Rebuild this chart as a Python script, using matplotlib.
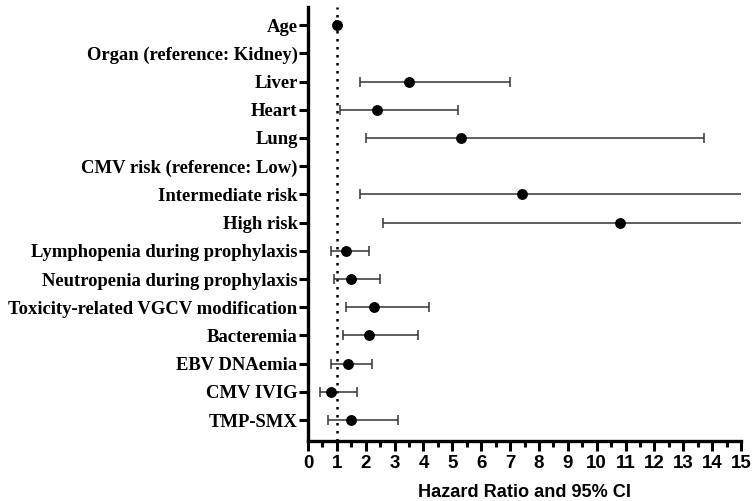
import matplotlib.pyplot as plt
import numpy as np

labels = ["Age", "Organ (reference: Kidney)", "Liver", "Heart", "Lung",
          "CMV risk (reference: Low)", "Intermediate risk", "High risk",
          "Lymphopenia during prophylaxis", "Neutropenia during prophylaxis",
          "Toxicity-related VGCV modification", "Bacteremia", "EBV DNAemia",
          "CMV IVIG", "TMP-SMX"]
hr = [1.0, np.nan, 3.5, 2.4, 5.3, np.nan, 7.4, 10.8, 1.3, 1.5, 2.3, 2.1, 1.4, 0.8, 1.5]
lo = [0.98, np.nan, 1.8, 1.1, 2.0, np.nan, 1.8, 2.6, 0.8, 0.9, 1.3, 1.2, 0.8, 0.4, 0.7]
hi = [1.02, np.nan, 7.0, 5.2, 13.7, np.nan, 30.5, 45.0, 2.1, 2.5, 4.2, 3.8, 2.2, 1.7, 3.1]

hr = np.array(hr)
lo = np.array(lo)
hi = np.array(hi)
y = np.arange(len(labels))

fig = plt.figure(figsize=(7.54, 5.01), dpi=100)
ax = fig.add_axes([0.4085, 0.1198, 0.5743, 0.8662])

ax.axvline(1, color="black", linestyle=(0, (1, 2.2)), linewidth=1.8, zorder=1)
ax.errorbar(hr, y, xerr=[hr - lo, hi - hr], fmt="o", color="black",
            ecolor="#333333", elinewidth=1.1, capsize=3.3, capthick=1.1,
            markersize=6.8, zorder=3)

ax.set_xlim(0, 15)
ax.set_ylim(14.74, -0.64)
ax.set_yticks(y)
ax.set_yticklabels(labels, family="Liberation Serif", fontweight="bold", fontsize=13.4)
ax.set_xticks(np.arange(0, 16, 1))
ax.set_xticks(np.arange(0.5, 15, 1), minor=True)
ax.set_xticklabels([str(i) for i in range(16)], family="Liberation Sans",
                   fontweight="bold", fontsize=13.5)
ax.set_xlabel("Hazard Ratio and 95% CI", family="Liberation Sans",
              fontweight="bold", fontsize=13.1, labelpad=9)

for s in ["top", "right"]:
    ax.spines[s].set_visible(False)
for s in ["left", "bottom"]:
    ax.spines[s].set_linewidth(2.4)
ax.tick_params(axis="y", length=6.5, width=2.2, pad=1)
ax.tick_params(axis="x", which="major", length=7, width=2.2, pad=3)
ax.tick_params(axis="x", which="minor", length=4, width=2.2)

fig.savefig("out.png", dpi=100)
